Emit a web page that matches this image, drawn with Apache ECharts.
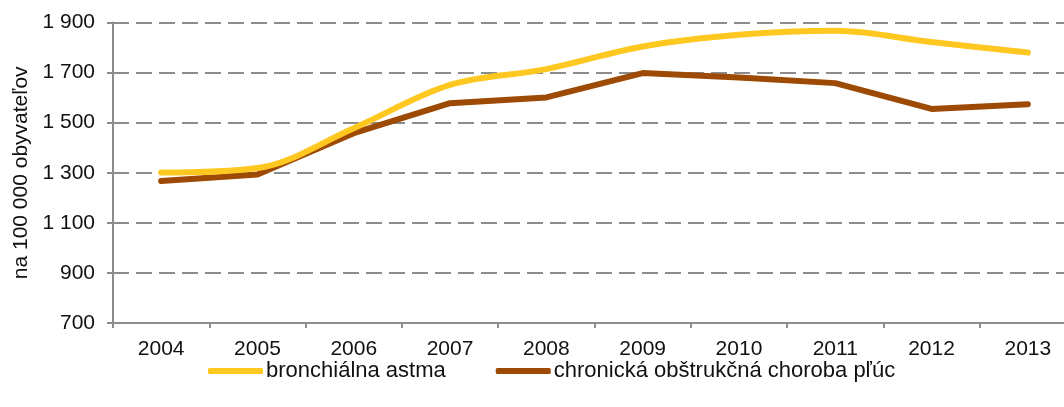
<!DOCTYPE html>
<html>
<head>
<meta charset="utf-8">
<script src="https://cdn.jsdelivr.net/npm/echarts@6/dist/echarts.min.js"></script>
<style>
  html, body { margin: 0; padding: 0; background: #fff; overflow: hidden; }
  #main { width: 1076px; height: 407px; }
</style>
</head>
<body>
<div id="main"></div>
<script>
// years on x axis
var years = ['2004', '2005', '2006', '2007', '2008', '2009', '2010', '2011', '2012', '2013'];
// bronchiálna astma (per 100 000)
var astma = [1301, 1319, 1478, 1651, 1714, 1804, 1851, 1867, 1822, 1780];
// chronická obštrukčná choroba pľúc (per 100 000)
var chopn = [1267, 1293, 1458, 1578, 1601, 1698, 1680, 1658, 1555, 1574];
var seriesNames = ['bronchiálna astma', 'chronická obštrukčná choroba pľúc'];

var font = 'Liberation Sans, Arial, sans-serif';
// the plot area runs past the right edge of the picture, so the canvas is a bit wider than the window
var chart = echarts.init(document.getElementById('main'));

chart.setOption({
  animation: false,
  grid: { left: 113, top: 22.5, width: 963, height: 300.6, containLabel: false },
  legend: {
    left: 208, top: 360, padding: 0,
    itemWidth: 55, itemHeight: 6, itemGap: 50,
    icon: 'roundRect',
    textStyle: { fontFamily: font, fontSize: 22, color: '#111', padding: [0, 0, 0, -2] },
    data: seriesNames
  },
  xAxis: {
    type: 'category',
    data: years,
    boundaryGap: true,
    axisLine: { lineStyle: { color: '#8c8c8c', width: 2 } },
    axisTick: { show: true, length: 5, lineStyle: { color: '#8c8c8c', width: 2 } },
    axisLabel: { fontFamily: font, fontSize: 21, color: '#111', margin: 16 }
  },
  yAxis: {
    type: 'value',
    min: 700, max: 1900, interval: 200,
    name: 'na 100 000 obyvateľov',
    nameLocation: 'middle',
    nameGap: 78,
    nameTextStyle: { fontFamily: font, fontSize: 21, color: '#111' },
    axisLine: { show: true, lineStyle: { color: '#8c8c8c', width: 2 } },
    axisTick: { show: true, length: 6, lineStyle: { color: '#8c8c8c', width: 2 } },
    axisLabel: {
      fontFamily: font, fontSize: 21, color: '#111', margin: 18,
      formatter: function (v) { return String(v).replace(/\B(?=(\d{3})+(?!\d))/g, ' '); }
    },
    splitLine: { show: true, lineStyle: { color: '#8c8c8c', width: 2, type: [16, 7] } }
  },
  series: [
    {
      name: seriesNames[0], type: 'line', data: astma,
      smooth: 0.35, symbol: 'none',
      lineStyle: { color: '#FFC820', width: 6, cap: 'round' },
      itemStyle: { color: '#FFC820' }, z: 3
    },
    {
      name: seriesNames[1], type: 'line', data: chopn,
      smooth: false, symbol: 'none',
      lineStyle: { color: '#9C4A04', width: 6, cap: 'round' },
      itemStyle: { color: '#9C4A04' }, z: 2
    }
  ]
});
</script>
</body>
</html>
